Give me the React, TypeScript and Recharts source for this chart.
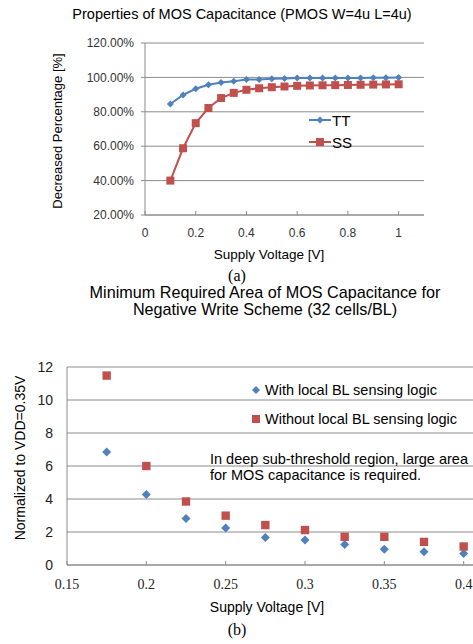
import React from 'react';
import {
  LineChart,
  Line,
  XAxis,
  YAxis,
  CartesianGrid,
  Legend,
  ScatterChart,
  Scatter,
} from 'recharts';

// chart (a): decreased percentage vs supply voltage
const voltageA = [0.1, 0.15, 0.2, 0.25, 0.3, 0.35, 0.4, 0.45, 0.5, 0.55, 0.6, 0.65, 0.7, 0.75, 0.8, 0.85, 0.9, 0.95, 1.0];
const ttValues = [0.845, 0.898, 0.934, 0.957, 0.97, 0.978, 0.988, 0.988, 0.992, 0.993, 0.996, 0.996, 0.996, 0.997, 0.997, 0.997, 0.998, 0.998, 1.0];
const ssValues = [0.4, 0.588, 0.734, 0.822, 0.88, 0.91, 0.928, 0.937, 0.943, 0.947, 0.951, 0.953, 0.954, 0.955, 0.956, 0.957, 0.958, 0.959, 0.96];
const xTicksA = [0, 0.2, 0.4, 0.6, 0.8, 1];
const yTicksA = [0.2, 0.4, 0.6, 0.8, 1.0, 1.2];

// chart (b): normalized minimum area vs supply voltage
const voltageB = [0.175, 0.2, 0.225, 0.25, 0.275, 0.3, 0.325, 0.35, 0.375, 0.4];
const withLocal = [6.85, 4.27, 2.82, 2.24, 1.67, 1.52, 1.24, 0.96, 0.81, 0.69];
const withoutLocal = [11.48, 6.0, 3.85, 2.99, 2.42, 2.12, 1.71, 1.71, 1.4, 1.12];
const xTicksB = [0.15, 0.2, 0.25, 0.3, 0.35, 0.4, 0.45];
const yTicksB = [0, 2, 4, 6, 8, 10, 12];

const BLUE = '#4F81BD';
const RED = '#C0504D';
const GRID = '#8c8c8c';
const SANS = '"Liberation Sans", Arial, sans-serif';
const SERIF = '"Liberation Serif", "Times New Roman", serif';

const dataA = voltageA.map((v, i) => ({ v, tt: ttValues[i], ss: ssValues[i] }));
const dataWith = voltageB.map((v, i) => ({ v, y: withLocal[i] }));
const dataWithout = voltageB.map((v, i) => ({ v, y: withoutLocal[i] }));

const diamondPath = (cx: number, cy: number, r: number) =>
  `M${cx},${cy - r}L${cx + r},${cy}L${cx},${cy + r}L${cx - r},${cy}Z`;
const squarePath = (cx: number, cy: number, r: number) =>
  `M${cx - r},${cy - r}h${2 * r}v${2 * r}h${-2 * r}Z`;

function Caption({ x, y, size, font = SANS, rotate = 0, children }: any) {
  return (
    <div
      style={{
        position: 'absolute',
        left: x,
        top: y,
        transform: `translate(-50%, -50%) rotate(${rotate}deg)`,
        whiteSpace: 'nowrap',
        fontFamily: font,
        fontSize: size,
        color: '#000',
        lineHeight: 1,
      }}
    >
      {children}
    </div>
  );
}

function LegendA() {
  const rows = [
    { name: 'TT', color: BLUE, mark: diamondPath(12, 8, 3.5) },
    { name: 'SS', color: RED, mark: squarePath(12, 8, 4) },
  ];
  return (
    <div>
      {rows.map((r) => (
        <div key={r.name} style={{ display: 'flex', alignItems: 'center', height: 22 }}>
          <svg width={24} height={16}>
            <line x1={1} y1={8} x2={23} y2={8} stroke={r.color} strokeWidth={2} />
            <path d={r.mark} fill={r.color} />
          </svg>
          <span style={{ fontFamily: SANS, fontSize: 15, color: '#000' }}>{r.name}</span>
        </div>
      ))}
    </div>
  );
}

function LegendB() {
  const rows = [
    { name: 'With local BL sensing logic', color: BLUE, mark: diamondPath(6, 8, 4) },
    { name: 'Without local BL sensing logic', color: RED, mark: squarePath(6, 8, 4) },
  ];
  return (
    <div>
      {rows.map((r) => (
        <div key={r.name} style={{ display: 'flex', alignItems: 'center', height: 29 }}>
          <svg width={14} height={16}>
            <path d={r.mark} fill={r.color} />
          </svg>
          <span style={{ fontFamily: SANS, fontSize: 14.5, color: '#000', marginLeft: 1 }}>{r.name}</span>
        </div>
      ))}
    </div>
  );
}

export default function App() {
  return (
    <div style={{ position: 'absolute', left: 0, top: 0, width: 473, height: 644, overflow: 'hidden', background: '#fff' }}>
      <Caption x={242} y={14} size={14.5}>Properties of MOS Capacitance (PMOS W=4u L=4u)</Caption>

      <div style={{ position: 'absolute', left: 0, top: 0 }}>
        <LineChart width={473} height={270} data={dataA} margin={{ top: 43, right: 49, bottom: 25, left: 0 }}>
          <CartesianGrid vertical={false} stroke={GRID} />
          <XAxis
            dataKey="v"
            type="number"
            domain={[0, 1.1]}
            ticks={xTicksA}
            height={30}
            stroke={GRID}
            tickSize={-4}
            tickMargin={17}
            tick={{ fill: '#333', fontSize: 12, fontFamily: SANS }}
          />
          <YAxis
            type="number"
            domain={[0.2, 1.2]}
            ticks={yTicksA}
            width={145}
            stroke={GRID}
            tickSize={4}
            tickMargin={7}
            tickFormatter={(t: number) => `${(t * 100).toFixed(2)}%`}
            tick={{ fill: '#333', fontSize: 12, fontFamily: SANS }}
          />
          <Line
            dataKey="tt"
            name="TT"
            stroke={BLUE}
            strokeWidth={2}
            isAnimationActive={false}
            dot={(p: any) => <path key={`tt${p.index}`} d={diamondPath(p.cx, p.cy, 3.5)} fill={BLUE} />}
          />
          <Line
            dataKey="ss"
            name="SS"
            stroke={RED}
            strokeWidth={2}
            isAnimationActive={false}
            dot={(p: any) => <path key={`ss${p.index}`} d={squarePath(p.cx, p.cy, 4)} fill={RED} />}
          />
          <Legend
            layout="vertical"
            align="center"
            verticalAlign="middle"
            content={() => <LegendA />}
            wrapperStyle={{ left: 308, top: 109, width: 'auto' }}
          />
        </LineChart>
      </div>

      <Caption x={57} y={131} size={13} rotate={-90}>Decreased Percentage [%]</Caption>
      <Caption x={269} y={255} size={13.5}>Supply Voltage [V]</Caption>
      <Caption x={237} y={276} size={16} font={SERIF}>(a)</Caption>

      <Caption x={265} y={292} size={16.2}>Minimum Required Area of MOS Capacitance for</Caption>
      <Caption x={265} y={309} size={16.2}>Negative Write Scheme (32 cells/BL)</Caption>

      <div style={{ position: 'absolute', left: 0, top: 330 }}>
        <ScatterChart width={560} height={300} margin={{ top: 37, right: 17, bottom: 35, left: 0 }}>
          <CartesianGrid vertical={false} stroke={GRID} />
          <XAxis
            dataKey="v"
            type="number"
            domain={[0.15, 0.45]}
            ticks={xTicksB}
            height={30}
            stroke={GRID}
            tickSize={-4}
            tickMargin={18}
            tick={{ fill: '#222', fontSize: 14, fontFamily: SERIF }}
          />
          <YAxis
            dataKey="y"
            type="number"
            domain={[0, 12]}
            ticks={yTicksB}
            width={67}
            stroke={GRID}
            tickLine={false}
            tickSize={0}
            tickMargin={14}
            tick={{ fill: '#222', fontSize: 14, fontFamily: SANS }}
          />
          <Scatter
            data={dataWith}
            name="With local BL sensing logic"
            fill={BLUE}
            isAnimationActive={false}
            shape={(p: any) => <path d={diamondPath(p.cx, p.cy, 4.5)} fill={BLUE} />}
          />
          <Scatter
            data={dataWithout}
            name="Without local BL sensing logic"
            fill={RED}
            isAnimationActive={false}
            shape={(p: any) => <path d={squarePath(p.cx, p.cy, 4.2)} fill={RED} />}
          />
          <Legend
            layout="vertical"
            align="center"
            verticalAlign="middle"
            content={() => <LegendB />}
            wrapperStyle={{ left: 250, top: 45, width: 'auto' }}
          />
        </ScatterChart>
      </div>

      <div
        style={{
          position: 'absolute',
          left: 210,
          top: 451,
          fontFamily: SANS,
          fontSize: 14.5,
          lineHeight: '16px',
          color: '#000',
          whiteSpace: 'nowrap',
        }}
      >
        In deep sub-threshold region, large area
        <br />
        for MOS capacitance is required.
      </div>

      <Caption x={20} y={458} size={14} rotate={-90}>Normalized to VDD=0.35V</Caption>
      <Caption x={267} y={607} size={14}>Supply Voltage [V]</Caption>
      <Caption x={237} y={630} size={16} font={SERIF}>(b)</Caption>
    </div>
  );
}
